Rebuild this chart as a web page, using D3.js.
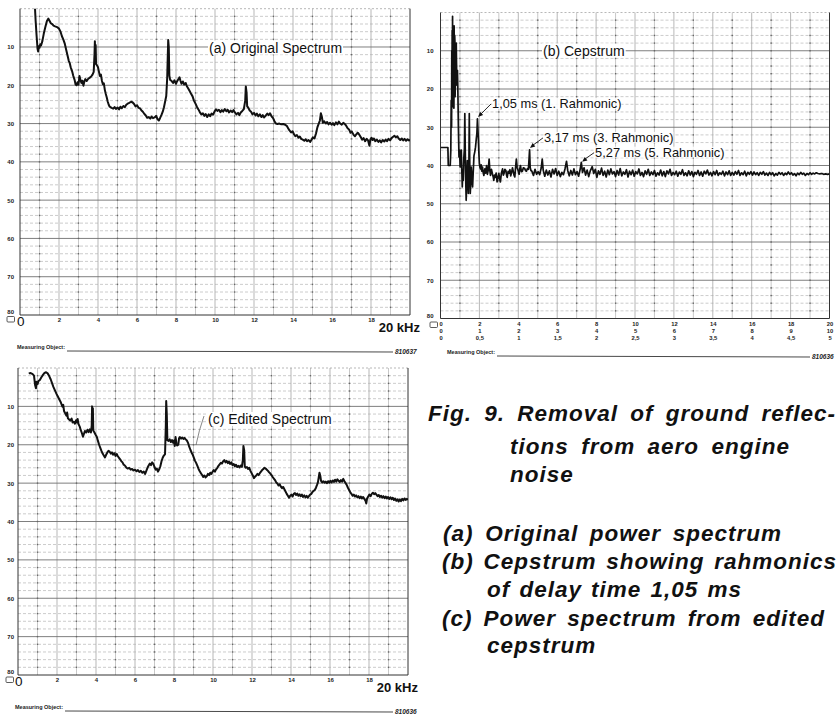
<!DOCTYPE html>
<html><head><meta charset="utf-8">
<script src="https://cdn.jsdelivr.net/npm/d3@7"></script>
<style>html,body{margin:0;padding:0;background:#fff;} svg{display:block;}</style>
</head><body><svg id="c" width="839" height="720"></svg>
<script>
// ---------------- DATA ----------------
const yTicks = [10, 20, 30, 40, 50, 60, 70, 80];
const freqTickLabels = [2, 4, 6, 8, 10, 12, 14, 16, 18];
const cepTickValues = [0, 2, 4, 6, 8, 10, 12, 14, 16, 18, 20];
const cepRow1 = ["0","2","4","6","8","10","12","14","16","18","20"];
const cepRow2 = ["0","1","2","3","4","5","6","7","8","9","10"];
const cepRow3 = ["0","0,5","1","1,5","2","2,5","3","3,5","4","4,5","5"];

// (a) original power spectrum [kHz, dB below top]
const spectrumA = [[0.77,0],[0.8,3],[0.85,7],[0.9,10.5],[0.93,11.2],[0.96,9.8],[1.0,10.2],[1.04,9.3],[1.08,9.6],[1.15,8.4],[1.22,6.5],[1.3,4.8],[1.38,3.2],[1.45,2.6],[1.5,3.0],[1.58,3.8],[1.65,4.0],[1.72,4.4],[1.8,4.6],[1.9,4.8],[2.0,5.2],[2.08,6.0],[2.15,7.2],[2.22,8.0],[2.3,9.2],[2.38,11.0],[2.45,12.5],[2.5,13.6],[2.55,14.2],[2.6,15.3],[2.67,16.3],[2.73,17.5],[2.8,18.6],[2.85,19.8],[2.9,20.0],[2.95,19.2],[3.0,19.8],[3.05,17.6],[3.1,18.6],[3.15,19.4],[3.2,18.8],[3.25,20.1],[3.3,19.0],[3.35,18.4],[3.42,18.9],[3.5,18.3],[3.58,18.0],[3.65,17.7],[3.72,17.2],[3.78,16.5],[3.82,12],[3.84,8.5],[3.86,13],[3.88,9.5],[3.9,14.5],[3.95,14.8],[4.0,15.3],[4.05,16.5],[4.1,17.6],[4.15,17.2],[4.2,18.8],[4.25,19.7],[4.3,19.5],[4.35,21.2],[4.4,22.3],[4.45,23.2],[4.5,24.3],[4.55,25.1],[4.6,25.6],[4.7,25.9],[4.78,26.1],[4.85,25.7],[4.92,26.2],[5.0,25.8],[5.08,26.3],[5.15,25.6],[5.22,26.0],[5.3,25.4],[5.38,25.7],[5.45,25.1],[5.52,24.8],[5.6,24.6],[5.7,24.3],[5.78,24.5],[5.85,24.9],[5.92,25.5],[6.0,25.2],[6.08,25.9],[6.15,26.0],[6.22,26.5],[6.3,26.9],[6.38,27.5],[6.45,27.9],[6.52,28.5],[6.6,28.3],[6.68,28.7],[6.75,28.2],[6.82,28.6],[6.9,28.4],[6.98,28.0],[7.05,28.8],[7.12,29.2],[7.18,28.6],[7.25,27.8],[7.32,26.9],[7.38,25.8],[7.44,24.3],[7.5,22.8],[7.55,18],[7.58,12],[7.6,8.2],[7.63,10],[7.66,17.5],[7.7,18.6],[7.78,18.9],[7.85,19.4],[7.92,18.7],[8.0,19.6],[8.05,19.0],[8.12,18.4],[8.18,17.9],[8.22,18.7],[8.28,19.6],[8.35,19.0],[8.42,19.8],[8.5,19.4],[8.55,20.2],[8.62,20.8],[8.7,21.5],[8.78,22.3],[8.85,22.9],[8.92,24.0],[9.0,24.8],[9.07,25.6],[9.15,26.3],[9.22,27.0],[9.3,27.6],[9.38,27.3],[9.45,28.0],[9.52,27.5],[9.6,28.3],[9.68,27.6],[9.75,28.1],[9.82,27.4],[9.9,27.7],[9.98,26.8],[10.05,26.3],[10.12,26.7],[10.2,26.4],[10.28,27.0],[10.35,26.5],[10.42,26.9],[10.5,26.2],[10.58,26.8],[10.65,26.4],[10.72,27.1],[10.8,26.6],[10.88,27.0],[10.95,26.5],[11.02,27.1],[11.1,27.6],[11.18,27.2],[11.25,27.8],[11.32,27.1],[11.4,26.7],[11.48,26.2],[11.55,24],[11.58,20.3],[11.62,22],[11.65,25.5],[11.7,25.8],[11.78,26.6],[11.85,26.9],[11.92,27.6],[12.0,27.2],[12.08,27.9],[12.15,27.4],[12.22,28.1],[12.3,27.6],[12.38,28.3],[12.45,27.8],[12.52,28.4],[12.6,27.9],[12.68,27.4],[12.75,27.8],[12.82,27.3],[12.9,28.1],[12.98,28.6],[13.05,29.4],[13.12,30.0],[13.2,30.1],[13.3,30.0],[13.4,30.2],[13.5,30.1],[13.6,30.3],[13.68,30.6],[13.75,31.2],[13.82,31.8],[13.9,32.3],[13.98,32.0],[14.05,32.8],[14.12,33.3],[14.2,33.0],[14.28,33.7],[14.35,33.4],[14.42,34.0],[14.5,34.2],[14.58,34.5],[14.65,34.1],[14.72,34.6],[14.8,34.3],[14.88,34.8],[14.95,34.2],[15.02,33.6],[15.1,33.9],[15.18,32.6],[15.25,31.0],[15.32,30.0],[15.38,29.2],[15.43,27.3],[15.48,28.2],[15.53,29.8],[15.6,29.4],[15.68,30.0],[15.75,29.6],[15.82,30.2],[15.9,29.8],[15.98,30.3],[16.05,29.9],[16.12,30.4],[16.2,29.7],[16.28,30.2],[16.35,29.5],[16.42,30.0],[16.5,30.3],[16.58,29.8],[16.65,30.1],[16.72,30.5],[16.8,31.2],[16.88,31.6],[16.95,32.4],[17.02,32.1],[17.1,32.9],[17.18,33.3],[17.25,32.8],[17.32,32.4],[17.4,32.9],[17.48,33.6],[17.55,34.2],[17.62,33.8],[17.7,34.6],[17.78,34.0],[17.85,34.4],[17.92,35.8],[17.97,34.1],[18.03,33.7],[18.08,34.3],[18.15,33.9],[18.22,34.6],[18.3,34.2],[18.38,34.8],[18.45,34.4],[18.52,34.9],[18.6,34.3],[18.68,34.7],[18.75,34.2],[18.82,34.6],[18.9,34.0],[18.98,34.4],[19.05,33.8],[19.12,33.5],[19.2,33.2],[19.28,33.6],[19.35,33.3],[19.42,33.9],[19.5,34.3],[19.58,33.9],[19.65,34.4],[19.72,34.0],[19.8,34.5],[19.88,34.1],[19.95,34.4],[20.0,34.2]];

// (b) cepstrum [quefrency (top scale), dB]
const cepstrum = [[0.0,35.3],[0.38,35.3],[0.4,40.0],[0.5,40.0],[0.53,36],[0.55,23],[0.57,30],[0.58,10],[0.59,22],[0.6,4.7],[0.61,18],[0.62,1.0],[0.63,24],[0.64,16],[0.66,24.7],[0.67,6],[0.68,12],[0.69,25],[0.7,3.5],[0.72,20],[0.73,6],[0.74,7.4],[0.75,22],[0.76,19.5],[0.78,9],[0.8,19],[0.81,8],[0.82,12],[0.84,18.6],[0.87,15.1],[0.89,19.5],[0.92,30],[0.95,37.8],[0.98,36],[1.01,40.4],[1.04,38],[1.07,36.0],[1.1,42],[1.12,45.6],[1.15,41],[1.17,43.9],[1.2,38],[1.23,35.5],[1.25,26.4],[1.27,35],[1.29,42.1],[1.32,49.1],[1.35,44],[1.38,38.7],[1.41,44],[1.43,47.3],[1.46,40],[1.48,26.4],[1.5,38],[1.53,47.3],[1.56,44],[1.58,40.4],[1.62,43.5],[1.65,45.6],[1.68,42],[1.72,37.5],[1.76,36.5],[1.8,35.2],[1.84,33.0],[1.87,31.7],[1.9,27.8],[1.92,30.0],[1.95,33.5],[1.98,37.5],[2.0,39.6],[2.03,40.5],[2.06,40.9],[2.09,39.8],[2.12,41.5],[2.16,40.4],[2.19,41.7],[2.23,42.6],[2.28,40.9],[2.32,42.0],[2.37,40.0],[2.41,42.3],[2.45,41.3],[2.5,38.3],[2.54,41.5],[2.57,42.6],[2.62,41.0],[2.67,42.2],[2.71,43.0],[2.74,43.9],[2.78,42.5],[2.81,43.1],[2.86,42.0],[2.91,44.3],[2.96,43.0],[3.0,42.1],[3.04,43.5],[3.08,44.3],[3.13,42.0],[3.19,40.9],[3.23,42.5],[3.27,42.0],[3.31,41.0],[3.36,41.3],[3.4,42.6],[3.43,43.1],[3.48,41.5],[3.53,42.0],[3.57,41.1],[3.61,42.7],[3.66,41.7],[3.7,40.6],[3.73,41.3],[3.78,42.5],[3.82,43.0],[3.86,40.5],[3.9,38.3],[3.94,40.5],[3.99,41.3],[4.04,42.3],[4.08,40.8],[4.11,40.0],[4.16,41.6],[4.21,41.5],[4.26,40.6],[4.33,40.8],[4.38,41.4],[4.42,41.5],[4.47,40.8],[4.52,41.0],[4.55,38.5],[4.58,35.9],[4.61,40.5],[4.65,41.3],[4.7,41.5],[4.78,42.6],[4.86,41.0],[4.94,42.3],[5.02,41.6],[5.1,42.4],[5.18,40.6],[5.23,38.3],[5.28,41.2],[5.36,42.8],[5.44,41.2],[5.52,42.5],[5.6,41.4],[5.68,43.0],[5.76,41.0],[5.84,42.2],[5.92,40.8],[6.0,42.6],[6.08,41.5],[6.16,42.9],[6.24,41.8],[6.32,42.4],[6.4,40.9],[6.48,38.9],[6.54,41.3],[6.62,42.7],[6.7,41.3],[6.78,42.5],[6.86,40.9],[6.94,42.4],[7.02,41.6],[7.1,42.8],[7.18,41.0],[7.24,39.2],[7.3,41.8],[7.38,40.6],[7.46,42.5],[7.54,41.2],[7.62,42.9],[7.7,41.4],[7.8,40.3],[7.88,42.1],[7.96,41.0],[8.04,43.1],[8.12,41.4],[8.2,42.3],[8.28,40.7],[8.36,42.6],[8.44,41.5],[8.52,43.0],[8.6,41.2],[8.68,42.4],[8.76,40.9],[8.84,42.2],[8.92,41.6],[9.0,42.9],[9.08,41.3],[9.16,42.5],[9.24,40.8],[9.32,42.7],[9.4,41.7],[9.48,42.3],[9.56,41.1],[9.64,43.0],[9.72,41.5],[9.8,42.4],[9.88,41.2],[9.96,42.8],[10.04,41.6],[10.12,42.2],[10.2,40.9],[10.28,42.6],[10.36,41.8],[10.44,42.9],[10.52,41.4],[10.6,42.3],[10.68,41.0],[10.76,42.6],[10.84,41.7],[10.92,42.4],[11.0,41.3],[11.08,42.8],[11.16,41.9],[11.24,42.5],[11.32,41.2],[11.4,42.7],[11.48,41.6],[11.56,42.9],[11.64,41.4],[11.72,42.2],[11.8,41.0],[11.88,42.6],[11.96,41.8],[12.04,42.4],[12.12,41.5],[12.2,42.8],[12.28,41.7],[12.36,42.3],[12.44,41.1],[12.52,42.6],[12.6,41.9],[12.68,42.7],[12.76,41.4],[12.84,42.5],[12.92,41.6],[13.0,42.9],[13.08,41.8],[13.16,42.3],[13.24,41.3],[13.32,42.6],[13.4,41.7],[13.48,42.8],[13.56,41.5],[13.64,42.2],[13.72,41.2],[13.8,42.5],[13.88,41.8],[13.96,42.7],[14.04,41.6],[14.12,42.4],[14.2,41.3],[14.28,42.6],[14.36,41.9],[14.44,42.3],[14.52,41.5],[14.6,42.7],[14.68,41.7],[14.76,42.4],[14.84,41.4],[14.92,42.6],[15.0,41.8],[15.08,42.5],[15.16,41.6],[15.24,42.3],[15.32,41.3],[15.4,42.6],[15.48,41.9],[15.56,42.4],[15.64,41.5],[15.72,42.7],[15.8,41.8],[15.88,42.3],[15.96,41.6],[16.04,42.5],[16.12,41.7],[16.2,42.4],[16.28,41.9],[16.36,42.6],[16.44,41.8],[16.52,42.3],[16.6,41.6],[16.68,42.5],[16.76,42.0],[16.84,42.6],[16.92,41.8],[17.0,42.4],[17.08,41.9],[17.16,42.7],[17.24,42.1],[17.32,42.5],[17.4,41.8],[17.48,42.3],[17.56,41.9],[17.64,42.6],[17.72,42.0],[17.8,42.4],[17.88,41.7],[17.96,42.3],[18.04,41.9],[18.12,42.5],[18.2,42.1],[18.28,42.7],[18.36,42.0],[18.44,42.4],[18.52,41.8],[18.6,42.3],[18.68,42.0],[18.76,42.6],[18.84,42.1],[18.92,42.4],[19.0,41.9],[19.08,42.3],[19.16,42.0],[19.24,42.2],[19.32,41.9],[19.4,42.1],[19.5,42.2],[19.6,42.1],[19.7,42.3],[19.8,42.2],[19.9,42.3],[20.0,42.2]];

// (c) power spectrum from edited cepstrum
const spectrumC = [[0.55,1.4],[0.65,1.3],[0.75,1.6],[0.82,2.0],[0.88,4.5],[0.92,5.3],[0.95,3.6],[1.0,4.2],[1.05,3.4],[1.12,3.1],[1.2,2.4],[1.28,1.8],[1.36,1.3],[1.44,1.1],[1.52,1.4],[1.6,2.1],[1.68,3.0],[1.75,4.0],[1.82,5.0],[1.9,5.9],[1.98,6.8],[2.05,7.5],[2.12,8.2],[2.2,9.0],[2.28,10.1],[2.32,9.6],[2.36,11.2],[2.42,11.8],[2.48,12.4],[2.52,11.6],[2.56,13.1],[2.62,13.4],[2.68,13.7],[2.75,13.2],[2.8,14.2],[2.86,14.0],[2.92,14.5],[2.98,13.6],[3.02,14.2],[3.06,13.3],[3.1,14.6],[3.16,15.2],[3.22,16.2],[3.28,17.0],[3.33,17.9],[3.38,17.2],[3.43,16.4],[3.5,16.8],[3.56,16.1],[3.62,16.7],[3.68,16.0],[3.74,16.8],[3.78,15.0],[3.8,10.0],[3.82,15.5],[3.84,10.5],[3.86,16.3],[3.92,16.8],[3.98,17.4],[4.04,17.9],[4.1,19.0],[4.16,20.0],[4.22,20.8],[4.28,21.6],[4.34,22.3],[4.4,22.8],[4.46,23.3],[4.52,22.6],[4.58,22.0],[4.64,21.6],[4.7,21.8],[4.76,22.3],[4.82,22.0],[4.88,22.6],[4.94,22.2],[5.0,22.9],[5.06,22.4],[5.12,23.0],[5.18,23.4],[5.24,23.8],[5.3,24.3],[5.36,24.6],[5.42,25.2],[5.48,25.4],[5.55,25.9],[5.62,26.2],[5.7,26.0],[5.78,26.5],[5.85,26.3],[5.92,26.7],[6.0,26.5],[6.08,26.9],[6.15,26.6],[6.22,27.1],[6.3,26.8],[6.38,27.3],[6.45,27.0],[6.52,27.6],[6.58,26.8],[6.64,26.0],[6.7,25.4],[6.76,24.9],[6.82,25.3],[6.88,24.6],[6.94,25.0],[7.0,25.8],[7.06,26.5],[7.12,26.2],[7.18,27.0],[7.24,26.4],[7.3,25.6],[7.36,24.3],[7.42,23.4],[7.48,22.8],[7.54,22.5],[7.58,15],[7.6,8.6],[7.63,12],[7.66,18.8],[7.72,19.0],[7.78,18.6],[7.84,19.3],[7.9,18.8],[7.96,19.5],[8.0,18.9],[8.04,20.3],[8.08,18.0],[8.12,19.6],[8.16,20.2],[8.22,20.0],[8.26,18.3],[8.3,18.0],[8.36,18.4],[8.42,18.1],[8.48,18.5],[8.54,18.2],[8.6,18.6],[8.66,18.9],[8.72,19.5],[8.78,20.5],[8.84,21.3],[8.9,22.0],[8.96,22.6],[9.02,23.4],[9.08,24.2],[9.14,24.8],[9.2,25.5],[9.26,26.3],[9.32,26.9],[9.38,27.4],[9.44,27.9],[9.5,28.4],[9.56,28.0],[9.62,28.5],[9.68,28.2],[9.74,27.6],[9.8,27.9],[9.86,27.3],[9.92,27.6],[9.98,27.0],[10.04,26.6],[10.1,27.0],[10.16,26.4],[10.22,26.0],[10.28,25.5],[10.34,25.1],[10.4,24.7],[10.46,24.9],[10.52,24.3],[10.58,24.0],[10.64,24.6],[10.7,24.2],[10.76,24.8],[10.82,24.4],[10.88,25.0],[10.94,24.6],[11.0,25.3],[11.06,25.0],[11.12,25.6],[11.18,25.2],[11.24,25.8],[11.3,25.5],[11.36,25.9],[11.42,25.4],[11.48,25.8],[11.53,24],[11.56,20.3],[11.6,21.5],[11.63,25.7],[11.68,26.0],[11.74,25.8],[11.8,26.3],[11.86,26.0],[11.92,26.8],[11.98,27.4],[12.04,28.0],[12.1,28.7],[12.16,28.3],[12.22,28.0],[12.28,27.6],[12.34,27.9],[12.4,27.4],[12.46,27.0],[12.52,26.6],[12.58,26.3],[12.64,26.0],[12.7,26.2],[12.76,26.5],[12.82,26.8],[12.88,27.2],[12.94,27.5],[13.0,27.9],[13.06,28.4],[13.12,28.8],[13.18,29.2],[13.24,29.8],[13.3,30.1],[13.36,30.6],[13.42,30.3],[13.48,30.9],[13.54,31.3],[13.6,31.0],[13.66,31.6],[13.72,32.2],[13.78,32.8],[13.84,33.3],[13.9,33.8],[13.96,33.3],[14.02,33.0],[14.08,33.5],[14.14,32.8],[14.2,32.6],[14.26,33.1],[14.32,32.7],[14.38,33.3],[14.44,32.9],[14.5,33.4],[14.56,33.0],[14.62,33.6],[14.68,33.2],[14.74,33.7],[14.8,33.3],[14.86,33.8],[14.92,33.4],[14.98,33.0],[15.04,32.8],[15.1,32.3],[15.16,32.0],[15.22,31.8],[15.28,31.2],[15.34,30.4],[15.38,29.8],[15.42,28.6],[15.46,27.3],[15.5,28.0],[15.54,29.4],[15.6,29.8],[15.66,29.5],[15.72,29.9],[15.78,29.6],[15.84,30.0],[15.9,29.5],[15.96,29.9],[16.02,29.4],[16.08,29.8],[16.14,29.3],[16.2,29.7],[16.26,29.1],[16.32,29.6],[16.38,29.0],[16.44,29.4],[16.5,29.7],[16.56,29.2],[16.62,29.6],[16.68,28.9],[16.74,29.5],[16.8,30.0],[16.86,30.5],[16.92,31.2],[16.98,31.8],[17.04,32.4],[17.1,32.8],[17.16,33.3],[17.22,33.0],[17.28,33.5],[17.34,33.2],[17.4,33.7],[17.46,33.4],[17.52,33.9],[17.58,33.5],[17.64,34.0],[17.7,33.6],[17.76,34.1],[17.82,34.6],[17.86,35.3],[17.9,34.0],[17.96,33.5],[18.02,33.0],[18.08,33.4],[18.14,32.8],[18.2,32.5],[18.26,32.9],[18.32,32.6],[18.38,33.0],[18.44,33.4],[18.5,33.1],[18.56,33.6],[18.62,33.3],[18.68,33.8],[18.74,33.4],[18.8,33.9],[18.86,33.5],[18.92,34.0],[18.98,33.6],[19.04,34.1],[19.1,33.7],[19.16,34.2],[19.22,33.8],[19.28,34.4],[19.34,34.0],[19.4,34.6],[19.46,34.2],[19.52,34.8],[19.58,34.3],[19.64,34.7],[19.7,34.1],[19.76,34.5],[19.82,34.0],[19.88,34.4],[19.94,34.1],[20.0,34.3]];

const cepAnnotations = [
  {label: "1,05 ms (1. Rahmonic)", q: 1.93, v: 27.3, dx: 13, dy: -13},
  {label: "3,17 ms (3. Rahmonic)", q: 4.6, v: 35.4, dx: 13, dy: -10},
  {label: "5,27 ms (5. Rahmonic)", q: 7.28, v: 39.0, dx: 12, dy: -9}
];
const captionLines = [
  "Fig. 9. Removal of ground reflec-",
  "tions from aero engine",
  "noise",
  "(a) Original power spectrum",
  "(b) Cepstrum showing rahmonics",
  "of delay time 1,05 ms",
  "(c) Power spectrum from edited",
  "cepstrum"
];

// ---------------- DRAWING ----------------
const FONT = "'Liberation Sans', Arial, Helvetica, sans-serif";
const svg = d3.select('#c');
svg.append('rect').attr('width', 839).attr('height', 720).attr('fill', '#fff');

function drawPanel(cfg) {
  const x = d3.scaleLinear().domain([0, 20]).range([cfg.left, cfg.right]);
  const y = d3.scaleLinear().domain([0, 80]).range([cfg.top, cfg.bottom]);
  const g = svg.append('g');

  g.selectAll('line.v').data(d3.range(1, 20)).join('line')
    .attr('x1', d => x(d)).attr('x2', d => x(d))
    .attr('y1', y(0)).attr('y2', y(80))
    .attr('stroke', d => d % 2 ? '#b0b0b0' : '#999')
    .attr('stroke-width', 0.7);
  g.selectAll('line.hm').data(d3.range(2, 80, 2).filter(d => d % 10)).join('line')
    .attr('x1', x(0)).attr('x2', x(20))
    .attr('y1', d => y(d)).attr('y2', d => y(d))
    .attr('stroke', '#aaa').attr('stroke-width', 0.6)
    .attr('stroke-dasharray', '3,2');
  g.selectAll('line.hM').data([10, 20, 30, 40, 50, 60, 70]).join('line')
    .attr('x1', x(0)).attr('x2', x(20))
    .attr('y1', d => y(d)).attr('y2', d => y(d))
    .attr('stroke', '#707070').attr('stroke-width', 0.9);
  const dots = [];
  for (let k = 1; k < 20; k += 2) for (let v = 2; v < 80; v += 2) dots.push([k, v]);
  g.selectAll('rect.dot').data(dots).join('rect')
    .attr('x', d => x(d[0]) - 0.7).attr('y', d => y(d[1]) - 0.7)
    .attr('width', 1.4).attr('height', 1.4).attr('fill', '#666');
  g.append('line').attr('x1', x(0)).attr('x2', x(20)).attr('y1', y(0)).attr('y2', y(0))
    .attr('stroke', '#999').attr('stroke-width', 0.7).attr('stroke-dasharray', '2,2');
  g.append('line').attr('x1', x(0)).attr('x2', x(20)).attr('y1', y(80)).attr('y2', y(80))
    .attr('stroke', '#333').attr('stroke-width', 1);
  g.append('line').attr('x1', x(0)).attr('x2', x(0)).attr('y1', y(0)).attr('y2', y(80))
    .attr('stroke', '#333').attr('stroke-width', 1);
  g.append('line').attr('x1', x(20)).attr('x2', x(20)).attr('y1', y(0)).attr('y2', y(80))
    .attr('stroke', '#333').attr('stroke-width', 1);

  const ya = g.append('g').attr('transform', `translate(${x(0)},0)`)
    .call(d3.axisLeft(y).tickValues(yTicks).tickSize(0).tickPadding(cfg.yPad));
  ya.select('.domain').remove();
  ya.selectAll('text').attr('font-family', FONT).attr('font-size', 6)
    .attr('font-weight', 'bold').attr('fill', '#222')
    .attr('dy', d => d === 80 ? '-0.2em' : '0.32em');

  const clipId = 'clip' + cfg.id;
  svg.append('clipPath').attr('id', clipId).append('rect')
    .attr('x', x(0)).attr('y', y(0) - 1).attr('width', x(20) - x(0)).attr('height', y(80) - y(0) + 1);
  g.append('path').datum(cfg.data)
    .attr('clip-path', `url(#${clipId})`)
    .attr('d', d3.line().x(d => x(d[0])).y(d => y(d[1])))
    .attr('fill', 'none').attr('stroke', '#111')
    .attr('stroke-width', cfg.lw).attr('stroke-linejoin', 'round');

  g.append('rect').attr('x', x(0) - cfg.sqOff).attr('y', y(80) + cfg.sqY)
    .attr('width', 7.5).attr('height', 5.5).attr('rx', 1)
    .attr('fill', 'none').attr('stroke', '#333').attr('stroke-width', 0.8);

  g.append('text').attr('x', cfg.moX).attr('y', cfg.moY).text('Measuring Object:')
    .attr('font-family', FONT).attr('font-size', 5.5).attr('font-weight', 'bold').attr('fill', '#222');
  g.append('line').attr('x1', cfg.moX + 50).attr('x2', cfg.moLineEnd)
    .attr('y1', cfg.moY + 2).attr('y2', cfg.moY + 3)
    .attr('stroke', '#333').attr('stroke-width', 0.9);
  g.append('text').attr('x', cfg.moLineEnd + 2).attr('y', cfg.moY + 5).text(cfg.code)
    .attr('font-family', FONT).attr('font-size', 6.5).attr('font-weight', 'bold')
    .attr('font-style', 'italic').attr('fill', '#222');
  return {x, y, g};
}

function spectrumAxis(p) {
  const xa = p.g.append('g').attr('transform', `translate(0,${p.y(80) + 1})`)
    .call(d3.axisBottom(p.x).tickValues(freqTickLabels).tickSize(0).tickPadding(2));
  xa.select('.domain').remove();
  xa.selectAll('text').attr('font-family', FONT).attr('font-size', 6)
    .attr('font-weight', 'bold').attr('fill', '#222');
  p.g.append('text').attr('x', p.x(0) - 3).attr('y', p.y(80) + 10.5).text('0')
    .attr('font-family', FONT).attr('font-size', 13.5).attr('fill', '#111');
  p.g.append('text').attr('x', p.x(20) + 10).attr('y', p.y(80) + 16.5)
    .attr('text-anchor', 'end').text('20 kHz')
    .attr('font-family', FONT).attr('font-size', 13).attr('font-weight', 'bold').attr('fill', '#111');
}

function panelLabel(p, text, tx, ty) {
  const t = p.g.append('text').attr('x', tx).attr('y', ty).text(text)
    .attr('font-family', FONT).attr('font-size', 14).attr('fill', '#111');
  const bb = t.node().getBBox();
  p.g.insert('rect', () => t.node())
    .attr('x', bb.x - 1).attr('y', bb.y + 1).attr('width', bb.width + 2).attr('height', bb.height - 2)
    .attr('fill', '#fff');
  return t;
}

// Panel (a)
const pA = drawPanel({id: 'a', left: 20, right: 410, top: 8.7, bottom: 315, data: spectrumA, lw: 2,
  yPad: 6, sqOff: 13, sqY: 1.5, moX: 17, moY: 349, moLineEnd: 393, code: '810637'});
spectrumAxis(pA);
panelLabel(pA, '(a) Original Spectrum', 209, 52.5);

// Panel (b)
const pB = drawPanel({id: 'b', left: 440.5, right: 829.5, top: 12.5, bottom: 318.5, data: cepstrum, lw: 1.7,
  yPad: 7, sqOff: 10.5, sqY: 3.5, moX: 447, moY: 354, moLineEnd: 810, code: '810636'});
[cepRow1, cepRow2, cepRow3].forEach((row, i) => {
  const xa = pB.g.append('g').attr('transform', `translate(0,${pB.y(80) + 1 + i * 7})`)
    .call(d3.axisBottom(pB.x).tickValues(cepTickValues).tickSize(0).tickPadding(2)
      .tickFormat((d, j) => row[j]));
  xa.select('.domain').remove();
  xa.selectAll('text').attr('font-family', FONT).attr('font-size', 5.8)
    .attr('font-weight', 'bold').attr('fill', '#222');
});
panelLabel(pB, '(b) Cepstrum', 543, 55.5);
cepAnnotations.forEach(a => {
  const tx = pB.x(a.q), ty = pB.y(a.v);
  const sx = tx + a.dx, sy = ty + a.dy;
  pB.g.append('line').attr('x1', sx).attr('y1', sy).attr('x2', tx + 2).attr('y2', ty - 2)
    .attr('stroke', '#111').attr('stroke-width', 0.9);
  const ang = Math.atan2(ty - sy, tx - sx);
  const L = 5, W = 2.2;
  const bx = tx - L * Math.cos(ang), by = ty - L * Math.sin(ang);
  pB.g.append('path')
    .attr('d', `M${tx},${ty} L${bx - W * Math.sin(ang)},${by + W * Math.cos(ang)} L${bx + W * Math.sin(ang)},${by - W * Math.cos(ang)} Z`)
    .attr('fill', '#111');
  const t = pB.g.append('text').attr('x', sx + 1).attr('y', sy + 4).text(a.label)
    .attr('font-family', FONT).attr('font-size', 12.8).attr('fill', '#111');
  const bb = t.node().getBBox();
  pB.g.insert('rect', () => t.node())
    .attr('x', bb.x).attr('y', bb.y + 2).attr('width', bb.width).attr('height', bb.height - 4)
    .attr('fill', '#fff').attr('fill-opacity', 0.85);
});

// Panel (c)
const pC = drawPanel({id: 'c', left: 18, right: 408, top: 368, bottom: 675, data: spectrumC, lw: 2,
  yPad: 4, sqOff: 12, sqY: 2, moX: 15, moY: 709, moLineEnd: 393, code: '810636'});
spectrumAxis(pC);
panelLabel(pC, '(c) Edited Spectrum', 208, 424);
pC.g.append('path').attr('d', 'M204,416 Q199,430 196,445')
  .attr('fill', 'none').attr('stroke', '#555').attr('stroke-width', 0.7);

// Caption (justified words)
const capLayout = [
  {x: 428, y: 421, w: 408},
  {x: 510, y: 454, w: 280},
  {x: 510, y: 482, w: 58},
  {x: 443, y: 541, w: 339},
  {x: 442, y: 569, w: 395},
  {x: 487, y: 597, w: 255},
  {x: 442, y: 626, w: 383},
  {x: 487, y: 653, w: 98}
];
const capG = svg.append('g');
captionLines.forEach((line, i) => {
  const L = capLayout[i];
  const words = line.split(' ');
  const t = capG.append('text').attr('y', L.y)
    .attr('font-family', FONT).attr('font-size', 22.5).attr('font-weight', 'bold')
    .attr('font-style', 'italic').attr('fill', '#111').attr('letter-spacing', 1);
  const spans = words.map(w => t.append('tspan').text(w));
  const widths = spans.map(s => s.node().getComputedTextLength());
  const total = d3.sum(widths);
  const gap = words.length > 1 ? (L.w - total) / (words.length - 1) : 0;
  let cx = L.x;
  spans.forEach((s, j) => { s.attr('x', cx); cx += widths[j] + gap; });
});
</script>
</body></html>
